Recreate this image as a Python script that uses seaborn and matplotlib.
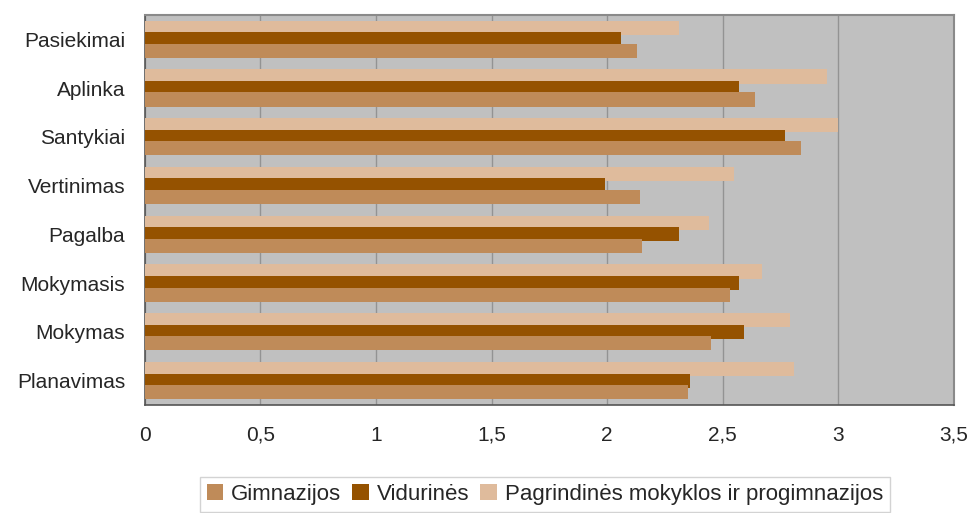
import pandas as pd
import numpy as np
import matplotlib
matplotlib.use('Agg')
import matplotlib.pyplot as plt
import seaborn as sns
from matplotlib.patches import Patch

# Data
categories = ['Pasiekimai', 'Aplinka', 'Santykiai', 'Vertinimas',
              'Pagalba', 'Mokymasis', 'Mokymas', 'Planavimas']
gimnazijos = [2.13, 2.64, 2.84, 2.14, 2.15, 2.53, 2.45, 2.35]
vidurines = [2.06, 2.57, 2.77, 1.99, 2.31, 2.57, 2.59, 2.36]
pagrindines = [2.31, 2.95, 3.00, 2.55, 2.44, 2.67, 2.79, 2.81]

series_names = ['Gimnazijos', 'Vidurinės', 'Pagrindinės mokyklos ir progimnazijos']
colors = {'Gimnazijos': '#BF8B59', 'Vidurinės': '#955200',
          'Pagrindinės mokyklos ir progimnazijos': '#DFBB9C'}

df = pd.DataFrame({
    'Kategorija': categories * 3,
    'Reikšmė': gimnazijos + vidurines + pagrindines,
    'Mokykla': [series_names[0]] * 8 + [series_names[1]] * 8 + [series_names[2]] * 8,
})

sns.set_style('white')
plt.rcParams['font.family'] = ['Liberation Sans', 'DejaVu Sans']

fig = plt.figure(figsize=(9.71, 5.13), dpi=100)
ax = fig.add_axes([0.149, 0.2105, 0.8335, 0.7605])
ax.set_facecolor('#C0C0C0')

# top-to-bottom order inside a group: Pagrindinės, Vidurinės, Gimnazijos
hue_order = [series_names[2], series_names[1], series_names[0]]
sns.barplot(data=df, x='Reikšmė', y='Kategorija', hue='Mokykla', order=categories,
            hue_order=hue_order, palette=colors, orient='h', width=0.71,
            saturation=1, errorbar=None, legend=False, ax=ax, zorder=3)
# bars slightly overlap each other, like the original
for bar in ax.patches:
    bar.set_edgecolor('none')
    c = bar.get_y() + bar.get_height() / 2
    bar.set_height(0.29)
    bar.set_y(c - 0.145)

ax.set_xlim(0, 3.5)
ax.set_ylim(len(categories) - 0.5, -0.5)
ax.set_xticks(np.arange(0, 3.51, 0.5))
ax.set_xticklabels(['0', '0,5', '1', '1,5', '2', '2,5', '3', '3,5'])
ax.grid(axis='x', color='#939393', linewidth=1.0, zorder=0)
ax.set_axisbelow(True)
ax.set_xlabel('')
ax.set_ylabel('')

ax.set_yticks(np.arange(len(categories)) - 0.5, minor=True)
ax.tick_params(axis='y', which='major', length=0, pad=14, labelsize=15)
ax.tick_params(axis='y', which='minor', length=5, color='#555555', direction='out')
ax.tick_params(axis='x', length=5, color='#555555', direction='out', pad=10, labelsize=15)

for side in ['top', 'right']:
    ax.spines[side].set_color('#8A8A8A')
    ax.spines[side].set_linewidth(1.5)
for side in ['left', 'bottom']:
    ax.spines[side].set_color('#555555')
    ax.spines[side].set_linewidth(1.2)

handles = [Patch(facecolor=colors[n], edgecolor='none', label=n) for n in series_names]
leg = fig.legend(handles=handles, loc='center', bbox_to_anchor=(0.561, 0.036), ncol=3,
                 frameon=True, fancybox=False, fontsize=16, handlelength=0.75,
                 handleheight=0.75, handletextpad=0.35, columnspacing=0.5,
                 borderpad=0.3, edgecolor='#C8C8C8')
leg.get_frame().set_linewidth(1.0)

fig.savefig('out.png', dpi=100, facecolor='white')
